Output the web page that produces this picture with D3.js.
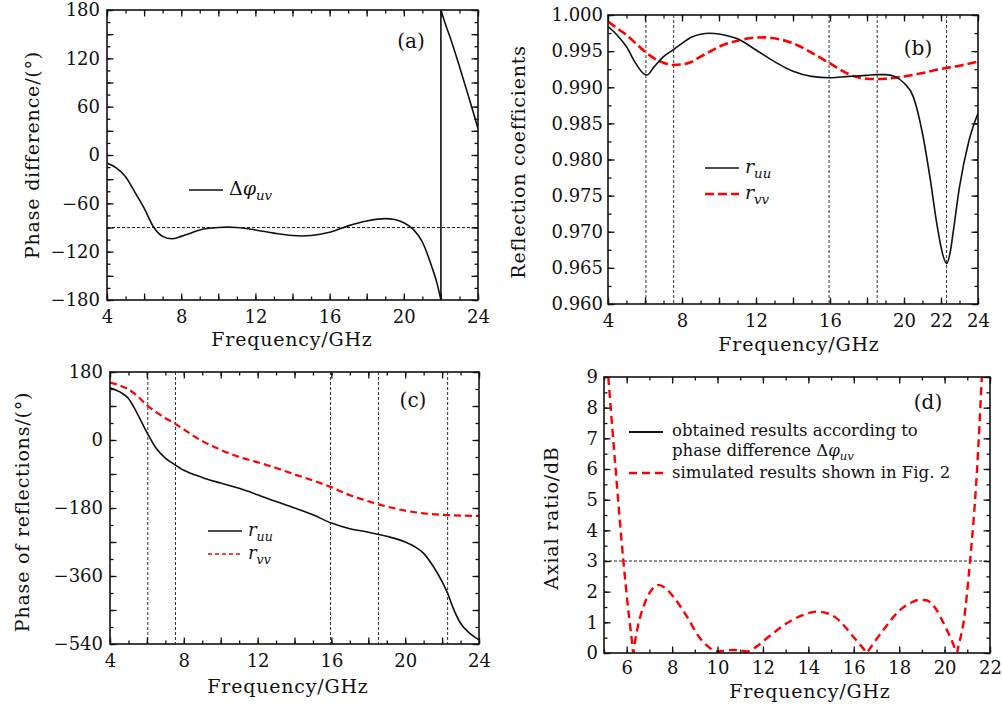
<!DOCTYPE html>
<html>
<head>
<meta charset="utf-8">
<script src="https://cdn.jsdelivr.net/npm/d3@7"></script>
<style>
body { margin: 0; background: #fff; }
svg text { font-family: "DejaVu Serif", serif; fill: #111; }
</style>
</head>
<body>
<svg id="fig" width="1002" height="710"></svg>
<script>
// (a) phase difference, before and after the wrap at 22 GHz
var freqA1 = [4, 4.5, 5, 5.5, 6, 6.5, 7, 7.5, 8, 8.5, 9, 9.5, 10, 10.5, 11, 12, 13, 14, 14.5, 15, 16, 17, 18, 19, 19.5, 20, 20.5, 21, 21.5, 21.8, 22];
var phaseDiffA1 = [-10, -16, -27, -46, -66, -89, -101, -104, -101, -97, -93, -91, -90, -89.5, -90, -93, -97, -100, -100.5, -100, -96, -88, -82, -79, -80, -84, -92, -108, -138, -160, -180];
var freqA2 = [22, 22.25, 22.5, 23, 23.5, 24];
var phaseDiffA2 = [180, 162, 146, 110, 72, 33];

// (b) reflection coefficients
var freqRuuB = [4, 4.5, 5, 5.5, 6, 6.1, 6.5, 7, 7.5, 8, 8.5, 9, 9.5, 10, 10.5, 11, 12, 13, 14, 15, 16, 17, 18, 18.5, 19, 19.5, 20, 20.5, 21, 21.4, 21.8, 22.1, 22.3, 22.5, 22.65, 23, 23.5, 24];
var ruuB = [0.9984, 0.9972, 0.9956, 0.9933, 0.99175, 0.9917, 0.99285, 0.99423, 0.99515, 0.99608, 0.99691, 0.99733, 0.99747, 0.99738, 0.9971, 0.9967, 0.99515, 0.99354, 0.9922, 0.9915, 0.99132, 0.9915, 0.99165, 0.99175, 0.99175, 0.9915, 0.9906, 0.9887, 0.9836, 0.9776, 0.9707, 0.9668, 0.9656, 0.9672, 0.9698, 0.9762, 0.9825, 0.9864];
var freqRvvB = [4, 4.5, 5, 5.5, 6, 6.5, 7, 7.5, 8, 8.5, 9, 9.5, 10, 11, 12, 12.5, 13, 14, 15, 16, 17, 17.5, 18, 18.5, 19, 20, 21, 22, 23, 24];
var rvvB = [0.9991, 0.99815, 0.99723, 0.99608, 0.99492, 0.994, 0.9934, 0.99308, 0.99317, 0.9935, 0.99423, 0.99492, 0.9956, 0.99645, 0.99687, 0.99691, 0.99677, 0.99608, 0.9948, 0.99331, 0.99183, 0.99137, 0.99118, 0.99114, 0.99118, 0.9915, 0.99197, 0.99253, 0.99298, 0.99354];

// (c) phase of reflections
var freqRuuC = [4, 4.5, 5, 5.5, 6, 6.5, 7, 7.5, 8, 9, 10, 11, 12, 13, 14, 15, 16, 17, 18, 19, 20, 20.5, 21, 21.5, 22, 22.3, 22.6, 23, 23.5, 24];
var ruuC = [138, 128, 110, 68, 20, -22, -48, -65, -80, -99, -114, -128, -145, -163, -180, -198, -220, -235, -244, -255, -270, -282, -300, -333, -375, -406, -445, -485, -512, -529];
var freqRvvC = [4, 4.5, 5, 5.5, 6, 6.5, 7, 7.5, 8, 9, 10, 11, 12, 13, 14, 15, 16, 17, 18, 19, 20, 21, 22, 23, 24];
var rvvC = [152, 145, 134, 116, 92, 74, 58, 44, 28, -3, -26, -45, -59, -74, -91, -107, -125, -146, -162, -176, -187, -194, -198, -200, -201];

// (d) axial ratio, simulated
var freqD = [5.19, 5.5, 5.85, 6.1, 6.22, 6.29, 6.36, 6.5, 6.73, 7.0, 7.39, 7.7, 8.05, 8.64, 9.23, 9.6, 9.96, 10.3, 10.7, 11.0, 11.29, 11.7, 12.17, 13.05, 13.7, 14.37, 14.9, 15.25, 15.98, 16.3, 16.5, 16.57, 16.64, 16.9, 17.3, 18.04, 18.5, 18.85, 19.2, 19.5, 20.1, 20.35, 20.48, 20.54, 20.6, 20.83, 21.12, 21.42, 21.64];
var arD = [9, 6.1, 3.03, 1.2, 0.45, 0, 0.35, 0.9, 1.5, 1.95, 2.22, 2.12, 1.84, 1.2, 0.48, 0.2, 0.05, 0.08, 0.1, 0.08, 0.05, 0.2, 0.48, 0.97, 1.22, 1.35, 1.28, 1.13, 0.53, 0.25, 0.07, 0, 0.07, 0.35, 0.75, 1.4, 1.63, 1.73, 1.72, 1.55, 0.75, 0.35, 0.1, 0, 0.2, 0.97, 2.98, 5.86, 9];

var markFreqs = [6.05, 7.55, 15.95, 18.55, 22.3];

var svg = d3.select('#fig');

function panel(id, box, xDom, yDom) {
	var x = d3.scaleLinear().domain(xDom).range([box.left, box.right]);
	var y = d3.scaleLinear().domain(yDom).range([box.bottom, box.top]);
	svg.append('clipPath').attr('id', 'clip' + id)
		.append('rect')
		.attr('x', box.left).attr('y', box.top)
		.attr('width', box.right - box.left).attr('height', box.bottom - box.top);
	var g = svg.append('g');
	var plot = g.append('g').attr('clip-path', 'url(#clip' + id + ')');
	return { x: x, y: y, g: g, plot: plot, box: box };
}

function tickAxes(p, o) {
	var b = p.box;
	var sides = [
		[d3.axisBottom, p.x, 'translate(0,' + b.bottom + ')', o.xMajor, o.xMinor],
		[d3.axisTop, p.x, 'translate(0,' + b.top + ')', o.xMajor, o.xMinor],
		[d3.axisLeft, p.y, 'translate(' + b.left + ',0)', o.yMajor, o.yMinor],
		[d3.axisRight, p.y, 'translate(' + b.right + ',0)', o.yMajor, o.yMinor]
	];
	sides.forEach(function(s) {
		[[s[3], 6.5], [s[4], 3.5]].forEach(function(t) {
			var ax = p.g.append('g').attr('transform', s[2])
				.call(s[0](s[1]).tickValues(t[0]).tickSize(-t[1]).tickFormat(''));
			ax.select('.domain').remove();
			ax.selectAll('line').attr('stroke', '#111').attr('stroke-width', 1.3);
		});
	});
	var xl = p.g.append('g').attr('transform', 'translate(0,' + b.bottom + ')')
		.call(d3.axisBottom(p.x).tickValues(o.xLabels).tickSize(0).tickPadding(o.padX));
	var yl = p.g.append('g').attr('transform', 'translate(' + b.left + ',0)')
		.call(d3.axisLeft(p.y).tickValues(o.yLabels).tickSize(0).tickPadding(o.padY).tickFormat(o.yFmt || d3.format('d')));
	[xl, yl].forEach(function(a) {
		a.select('.domain').remove();
		a.selectAll('text').attr('font-size', 18).attr('font-family', '"DejaVu Serif", serif').attr('fill', '#111');
	});
	p.g.append('rect')
		.attr('x', b.left).attr('y', b.top)
		.attr('width', b.right - b.left).attr('height', b.bottom - b.top)
		.attr('fill', 'none').attr('stroke', '#111').attr('stroke-width', 1.6);
}

function titles(p, xt, yt, lab) {
	p.g.append('text').attr('x', xt[0]).attr('y', xt[1])
		.attr('text-anchor', 'middle').attr('font-size', 19).attr('letter-spacing', 0.8)
		.text('Frequency/GHz');
	p.g.append('text')
		.attr('transform', 'translate(' + yt[0] + ',' + yt[1] + ') rotate(-90)')
		.attr('text-anchor', 'middle').attr('font-size', 19).attr('letter-spacing', 0.8)
		.text(yt[2]);
	p.g.append('text').attr('x', lab[0]).attr('y', lab[1])
		.attr('text-anchor', 'middle').attr('font-size', 20).text(lab[2]);
}

function curve(p, xs, ys, style) {
	var pts = xs.map(function(f, i) { return [f, ys[i]]; });
	var line = d3.line()
		.x(function(d) { return p.x(d[0]); })
		.y(function(d) { return p.y(d[1]); })
		.curve(d3.curveMonotoneX);
	return p.plot.append('path').datum(pts)
		.attr('d', line)
		.attr('fill', 'none')
		.attr('stroke', style.color)
		.attr('stroke-width', style.width)
		.attr('stroke-dasharray', style.dash || null);
}

function refLineH(p, v) {
	p.plot.append('line')
		.attr('x1', p.box.left).attr('x2', p.box.right)
		.attr('y1', p.y(v)).attr('y2', p.y(v))
		.attr('stroke', '#222').attr('stroke-width', 1).attr('stroke-dasharray', '3,2');
}

function refLinesV(p) {
	p.plot.selectAll('line.mark').data(markFreqs).enter().append('line')
		.attr('class', 'mark')
		.attr('x1', function(d) { return p.x(d); }).attr('x2', function(d) { return p.x(d); })
		.attr('y1', p.box.top).attr('y2', p.box.bottom)
		.attr('stroke', '#333').attr('stroke-width', 1).attr('stroke-dasharray', '3,2');
}

function legendItem(p, x, y, style, parts, fs) {
	p.g.append('line')
		.attr('x1', x).attr('x2', x + 34).attr('y1', y).attr('y2', y)
		.attr('stroke', style.color).attr('stroke-width', style.width)
		.attr('stroke-dasharray', style.dash || null);
	if (parts) mathText(p.g, x + 40, y + 5, parts, fs);
}

function mathText(g, x, y, parts, fs) {
	var t = g.append('text').attr('x', x).attr('y', y).attr('font-size', fs);
	parts.forEach(function(q) {
		var s = t.append('tspan').text(q.t);
		if (q.it) s.attr('font-style', 'italic');
		if (q.sub) s.attr('font-size', fs * 0.7).attr('dy', fs * 0.25);
	});
	return t;
}

var tick1 = d3.range(4, 24.01, 1), tick2 = d3.range(4, 24.01, 2);

// ---- (a)
var pa = panel('a', { left: 107, right: 478, top: 10, bottom: 300 }, [4, 24], [-180, 180]);
refLineH(pa, -90);
curve(pa, freqA1, phaseDiffA1, { color: '#111', width: 1.6 });
curve(pa, freqA2, phaseDiffA2, { color: '#111', width: 1.6 });
pa.plot.append('line')
	.attr('x1', pa.x(freqA1[freqA1.length - 1])).attr('x2', pa.x(freqA2[0]))
	.attr('y1', pa.y(phaseDiffA1[phaseDiffA1.length - 1])).attr('y2', pa.y(phaseDiffA2[0]))
	.attr('stroke', '#111').attr('stroke-width', 1.6);
tickAxes(pa, { xMajor: tick2, xMinor: tick1, xLabels: d3.range(4, 24.01, 4),
	yMajor: d3.range(-180, 181, 30), yMinor: d3.range(-180, 181, 15), yLabels: d3.range(-180, 181, 60), padX: 10, padY: 7 });
titles(pa, [292, 346], [39, 155, 'Phase difference/(°)'], [411, 48, '(a)']);
legendItem(pa, 189, 190, { color: '#111', width: 1.6 },
	[{ t: 'Δ' }, { t: 'φ', it: true }, { t: 'uv', it: true, sub: true }], 19);

// ---- (b)
var pb = panel('b', { left: 608, right: 978, top: 15, bottom: 304 }, [4, 24], [0.96, 1.0]);
refLinesV(pb);
curve(pb, freqRvvB, rvvB, { color: '#f00', width: 2.6, dash: '9,4' });
curve(pb, freqRuuB, ruuB, { color: '#111', width: 1.6 });
tickAxes(pb, { xMajor: tick2, xMinor: tick1, xLabels: [4, 8, 12, 16, 20, 22, 24],
	yMajor: d3.range(0.96, 1.0001, 0.005), yMinor: d3.range(0.96, 1.0001, 0.0025),
	yLabels: d3.range(0, 9).map(function(i) { return 0.96 + i * 0.005; }), yFmt: d3.format('.3f'), padX: 10, padY: 5 });
titles(pb, [799, 351], [525, 162, 'Reflection coefficients'], [918, 55, '(b)']);
legendItem(pb, 705, 168, { color: '#111', width: 1.6 }, [{ t: 'r', it: true }, { t: 'uu', it: true, sub: true }], 19);
legendItem(pb, 705, 194, { color: '#f00', width: 2.6, dash: '9,4' }, [{ t: 'r', it: true }, { t: 'vv', it: true, sub: true }], 19);

// ---- (c)
var pc = panel('c', { left: 110, right: 479, top: 372, bottom: 644 }, [4, 24], [-540, 180]);
refLinesV(pc);
curve(pc, freqRvvC, rvvC, { color: '#f00', width: 2.2, dash: '7,4' });
curve(pc, freqRuuC, ruuC, { color: '#111', width: 1.6 });
tickAxes(pc, { xMajor: tick2, xMinor: tick1, xLabels: d3.range(4, 24.01, 4),
	yMajor: d3.range(-540, 181, 90), yMinor: d3.range(-540, 181, 45), yLabels: d3.range(-540, 181, 180), padX: 10, padY: 7 });
titles(pc, [288, 693], [29, 512, 'Phase of reflections/(°)'], [413, 407, '(c)']);
legendItem(pc, 208, 531, { color: '#111', width: 1.6 }, [{ t: 'r', it: true }, { t: 'uu', it: true, sub: true }], 18);
legendItem(pc, 208, 554, { color: '#f00', width: 1.6, dash: '4,3' }, [{ t: 'r', it: true }, { t: 'vv', it: true, sub: true }], 18);

// ---- (d)
var pd = panel('d', { left: 604, right: 990, top: 377, bottom: 653 }, [5, 22], [0, 9]);
refLineH(pd, 3);
curve(pd, freqD, arD, { color: '#f00', width: 2.4, dash: '8,5' });
tickAxes(pd, { xMajor: d3.range(6, 22.01, 2), xMinor: d3.range(5, 22.01, 1), xLabels: d3.range(6, 22.01, 2),
	yMajor: d3.range(0, 9.01, 1), yMinor: d3.range(0, 9.01, 0.5), yLabels: d3.range(0, 9.01, 1), padX: 8, padY: 6 });
titles(pd, [810, 698], [558, 518, 'Axial ratio/dB'], [928, 409, '(d)']);
legendItem(pd, 629, 432, { color: '#111', width: 1.8 }, null);
mathText(pd.g, 672, 436, [{ t: 'obtained results according to' }], 16.5);
mathText(pd.g, 672, 456, [{ t: 'phase difference Δ' }, { t: 'φ', it: true }, { t: 'uv', it: true, sub: true }], 16.5);
legendItem(pd, 629, 473, { color: '#f00', width: 2.4, dash: '8,5' }, null);
mathText(pd.g, 672, 478, [{ t: 'simulated results shown in Fig. 2' }], 16.5);
</script>
</body>
</html>
